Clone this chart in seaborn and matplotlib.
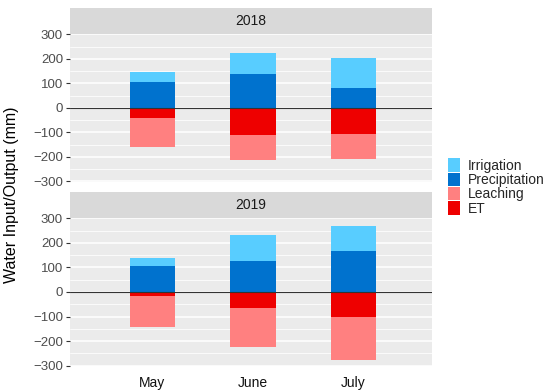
import numpy as np
import pandas as pd
import matplotlib
matplotlib.use("Agg")
import matplotlib.pyplot as plt
import seaborn as sns
from matplotlib.patches import Patch
from matplotlib.ticker import MultipleLocator

months = ["May", "June", "July"]
years = ["2018", "2019"]
irrigation = {"2018": [41, 88, 121], "2019": [32, 105, 103]}
precipitation = {"2018": [106, 138, 82], "2019": [105, 126, 166]}
leaching = {"2018": [-118, -105, -104], "2019": [-126, -161, -176]}
et = {"2018": [-42, -109, -105], "2019": [-15, -65, -100]}

colors = {"Irrigation": "#58CDFF", "Precipitation": "#0072CE",
          "Leaching": "#FF8080", "ET": "#EE0000"}

sns.set_theme(style="white")
plt.rcParams['font.family'] = ['Liberation Sans', 'DejaVu Sans']

fig = plt.figure(figsize=(5.5, 3.92), dpi=100)
W, H = 550, 392
px = lambda x0, y0, x1, y1: [x0 / W, 1 - y1 / H, (x1 - x0) / W, (y1 - y0) / H]

panels = [(34, 181.7, 8), (218, 366, 192)]
for yi, (year, (pt, pb, st)) in enumerate(zip(years, panels)):
    ax = fig.add_axes(px(70, pt, 432, pb))
    sax = fig.add_axes(px(70, st, 432, pt))
    sax.set_facecolor("#D9D9D9")
    sax.set_xticks([]); sax.set_yticks([])
    for s in sax.spines.values():
        s.set_visible(False)
    sax.text(0.5, 0.5, year, ha="center", va="center", fontsize=10,
             color="#1A1A1A", transform=sax.transAxes)

    df = pd.DataFrame({
        "month": months,
        "pos_total": np.array(irrigation[year]) + np.array(precipitation[year]),
        "precip": precipitation[year],
        "neg_total": np.array(leaching[year]) + np.array(et[year]),
        "et": et[year],
    })
    ax.set_facecolor("#EBEBEB")
    ax.yaxis.set_major_locator(MultipleLocator(100))
    ax.yaxis.set_minor_locator(MultipleLocator(50))
    ax.grid(which="major", axis="y", color="white", linewidth=1.1)
    ax.grid(which="minor", axis="y", color="white", linewidth=0.55)
    ax.set_axisbelow(True)
    for col, c in [("pos_total", colors["Irrigation"]), ("precip", colors["Precipitation"]),
                   ("neg_total", colors["Leaching"]), ("et", colors["ET"])]:
        sns.barplot(data=df, x="month", y=col, color=c, width=0.45,
                    saturation=1, ax=ax, linewidth=0, order=months)
    ax.axhline(0, color="#333333", linewidth=0.8)
    ax.set_ylim(-302, 302)
    ax.set_xlim(-0.82, 2.78)
    ax.set_yticks([-300, -200, -100, 0, 100, 200, 300])
    ax.tick_params(axis="y", which="major", left=True, length=3, width=0.8,
                   color="#333333", labelsize=9.5, labelcolor="#4D4D4D", pad=2)
    ax.tick_params(axis="y", which="minor", left=False)
    ax.set_ylabel("")
    ax.set_xlabel("")
    for s in ax.spines.values():
        s.set_visible(False)
    if yi == 0:
        ax.set_xticklabels([])
        ax.tick_params(axis="x", bottom=False, length=0)
    else:
        ax.tick_params(axis="x", bottom=False, length=0, labelsize=10,
                       labelcolor="#111111", pad=7)

fig.text(12 / W, 1 - 195 / H, "Water Input/Output (mm)", rotation=90,
         ha="center", va="center", fontsize=11.5, color="black")

handles = [Patch(facecolor=colors[k], edgecolor="none", label=k)
           for k in ["Irrigation", "Precipitation", "Leaching", "ET"]]
fig.legend(handles=handles, loc="center left", bbox_to_anchor=(448 / W, 1 - 187 / H),
           frameon=False, fontsize=10, handlelength=0.85, handleheight=1.1,
           handletextpad=0.6, labelspacing=0.0, borderaxespad=0, borderpad=0)

fig.savefig("out.png", dpi=100)
